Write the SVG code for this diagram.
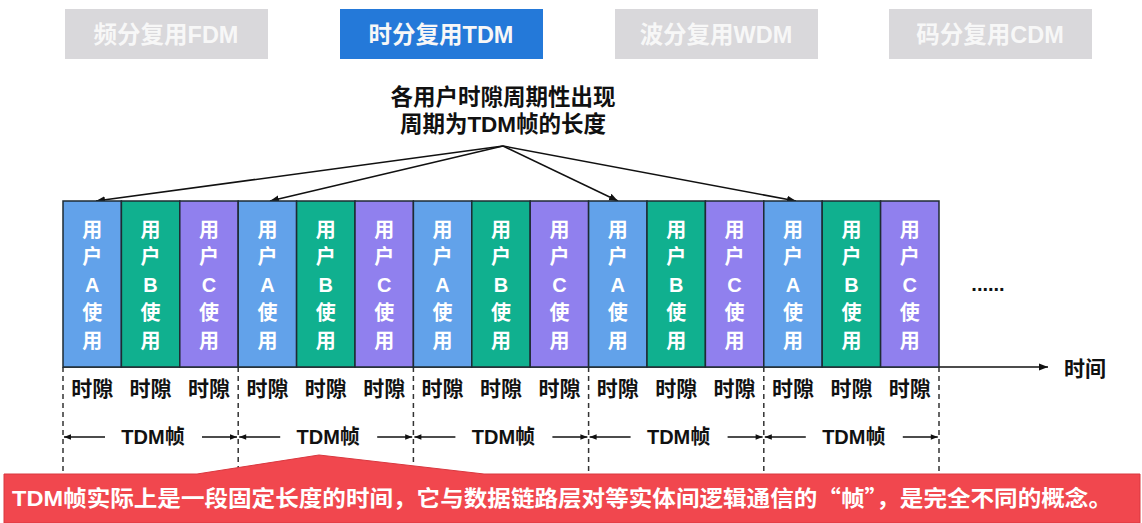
<svg xmlns="http://www.w3.org/2000/svg" width="1142" height="523" viewBox="0 0 1142 523">
<style>
text{font-family:"Liberation Sans","Noto Sans CJK SC",sans-serif;font-weight:bold}
.tab{fill:#d9d8db}
.tabon{fill:#2479d9}
.tabt{fill:#f7f7f7;font-size:23.5px;text-anchor:middle}
.ttl{fill:#111;font-size:22.5px;text-anchor:middle}
.ua{fill:#62a2ea;stroke:#1e2b33;stroke-width:1.5}
.ub{fill:#10b08f;stroke:#1e2b33;stroke-width:1.5}
.uc{fill:#9080ee;stroke:#1e2b33;stroke-width:1.5}
.ct{fill:#fff;font-size:20px;text-anchor:middle}
.sl{fill:#111;font-size:21px;text-anchor:middle}
.ln{stroke:#111;stroke-width:1.5;fill:none}
.dash{stroke:#333;stroke-width:1.5;stroke-dasharray:5 4;fill:none}
.fr{fill:#111;font-size:20px;text-anchor:middle}
</style>
<defs>
<marker id="ah" viewBox="0 0 10 10" refX="10" refY="5" markerWidth="9" markerHeight="9" markerUnits="userSpaceOnUse" orient="auto-start-reverse"><path d="M0,1 L10,5 L0,9 Z" fill="#111"/></marker>
<marker id="ah2" viewBox="0 0 10 10" refX="10" refY="5" markerWidth="8" markerHeight="7" markerUnits="userSpaceOnUse" orient="auto-start-reverse"><path d="M0,1 L10,5 L0,9 Z" fill="#111"/></marker>
</defs>
<g id="tabs">
<g id="tab-fdm"><rect class="tab" x="65" y="9" width="203" height="50"/><text class="tabt" x="166" y="43">频分复用FDM</text></g>
<g id="tab-tdm"><rect class="tabon" x="340" y="9" width="203" height="50"/><text class="tabt" x="441" y="43">时分复用TDM</text></g>
<g id="tab-wdm"><rect class="tab" x="615" y="9" width="203" height="50"/><text class="tabt" x="716" y="43">波分复用WDM</text></g>
<g id="tab-cdm"><rect class="tab" x="889" y="9" width="203" height="50"/><text class="tabt" x="990" y="43">码分复用CDM</text></g>
</g>
<g id="title">
<text class="ttl" x="503" y="105">各用户时隙周期性出现</text>
<text class="ttl" x="503" y="132">周期为TDM帧的长度</text>
</g>
<g id="connectors">
<line class="ln" x1="503" y1="146" x2="96" y2="201" marker-end="url(#ah)"/>
<line class="ln" x1="503" y1="146" x2="270" y2="201" marker-end="url(#ah)"/>
<line class="ln" x1="503" y1="146" x2="618" y2="201" marker-end="url(#ah)"/>
<line class="ln" x1="503" y1="146" x2="796" y2="201" marker-end="url(#ah)"/>
<line class="ln" x1="63" y1="367" x2="1048" y2="367" marker-end="url(#ah)"/>
<line class="dash" x1="63" y1="367" x2="63" y2="474"/>
<line class="dash" x1="238.2" y1="367" x2="238.2" y2="474"/>
<line class="dash" x1="413.4" y1="367" x2="413.4" y2="474"/>
<line class="dash" x1="588.6" y1="367" x2="588.6" y2="474"/>
<line class="dash" x1="763.8" y1="367" x2="763.8" y2="474"/>
<line class="dash" x1="939" y1="367" x2="939" y2="474"/>
<g id="frame-arrows">
<line class="ln" x1="105" y1="437" x2="64" y2="437" marker-end="url(#ah2)"/><line class="ln" x1="202" y1="437" x2="237" y2="437" marker-end="url(#ah2)"/>
<line class="ln" x1="280.2" y1="437" x2="239.2" y2="437" marker-end="url(#ah2)"/><line class="ln" x1="377.2" y1="437" x2="412.2" y2="437" marker-end="url(#ah2)"/>
<line class="ln" x1="455.4" y1="437" x2="414.4" y2="437" marker-end="url(#ah2)"/><line class="ln" x1="552.4" y1="437" x2="587.4" y2="437" marker-end="url(#ah2)"/>
<line class="ln" x1="630.6" y1="437" x2="589.6" y2="437" marker-end="url(#ah2)"/><line class="ln" x1="727.6" y1="437" x2="762.6" y2="437" marker-end="url(#ah2)"/>
<line class="ln" x1="805.8" y1="437" x2="764.8" y2="437" marker-end="url(#ah2)"/><line class="ln" x1="902.8" y1="437" x2="937.8" y2="437" marker-end="url(#ah2)"/>
</g>
</g>
<g id="slots">
<g id="s1"><rect class="ua" x="63" y="201" width="58.4" height="166"/><text class="ct"><tspan x="92.2" y="237">用</tspan><tspan x="92.2" y="264">户</tspan><tspan x="92.2" y="292">A</tspan><tspan x="92.2" y="320">使</tspan><tspan x="92.2" y="348">用</tspan></text></g>
<g id="s2"><rect class="ub" x="121.4" y="201" width="58.4" height="166"/><text class="ct"><tspan x="150.6" y="237">用</tspan><tspan x="150.6" y="264">户</tspan><tspan x="150.6" y="292">B</tspan><tspan x="150.6" y="320">使</tspan><tspan x="150.6" y="348">用</tspan></text></g>
<g id="s3"><rect class="uc" x="179.8" y="201" width="58.4" height="166"/><text class="ct"><tspan x="209" y="237">用</tspan><tspan x="209" y="264">户</tspan><tspan x="209" y="292">C</tspan><tspan x="209" y="320">使</tspan><tspan x="209" y="348">用</tspan></text></g>
<g id="s4"><rect class="ua" x="238.2" y="201" width="58.4" height="166"/><text class="ct"><tspan x="267.4" y="237">用</tspan><tspan x="267.4" y="264">户</tspan><tspan x="267.4" y="292">A</tspan><tspan x="267.4" y="320">使</tspan><tspan x="267.4" y="348">用</tspan></text></g>
<g id="s5"><rect class="ub" x="296.6" y="201" width="58.4" height="166"/><text class="ct"><tspan x="325.8" y="237">用</tspan><tspan x="325.8" y="264">户</tspan><tspan x="325.8" y="292">B</tspan><tspan x="325.8" y="320">使</tspan><tspan x="325.8" y="348">用</tspan></text></g>
<g id="s6"><rect class="uc" x="355" y="201" width="58.4" height="166"/><text class="ct"><tspan x="384.2" y="237">用</tspan><tspan x="384.2" y="264">户</tspan><tspan x="384.2" y="292">C</tspan><tspan x="384.2" y="320">使</tspan><tspan x="384.2" y="348">用</tspan></text></g>
<g id="s7"><rect class="ua" x="413.4" y="201" width="58.4" height="166"/><text class="ct"><tspan x="442.6" y="237">用</tspan><tspan x="442.6" y="264">户</tspan><tspan x="442.6" y="292">A</tspan><tspan x="442.6" y="320">使</tspan><tspan x="442.6" y="348">用</tspan></text></g>
<g id="s8"><rect class="ub" x="471.8" y="201" width="58.4" height="166"/><text class="ct"><tspan x="501" y="237">用</tspan><tspan x="501" y="264">户</tspan><tspan x="501" y="292">B</tspan><tspan x="501" y="320">使</tspan><tspan x="501" y="348">用</tspan></text></g>
<g id="s9"><rect class="uc" x="530.2" y="201" width="58.4" height="166"/><text class="ct"><tspan x="559.4" y="237">用</tspan><tspan x="559.4" y="264">户</tspan><tspan x="559.4" y="292">C</tspan><tspan x="559.4" y="320">使</tspan><tspan x="559.4" y="348">用</tspan></text></g>
<g id="s10"><rect class="ua" x="588.6" y="201" width="58.4" height="166"/><text class="ct"><tspan x="617.8" y="237">用</tspan><tspan x="617.8" y="264">户</tspan><tspan x="617.8" y="292">A</tspan><tspan x="617.8" y="320">使</tspan><tspan x="617.8" y="348">用</tspan></text></g>
<g id="s11"><rect class="ub" x="647" y="201" width="58.4" height="166"/><text class="ct"><tspan x="676.2" y="237">用</tspan><tspan x="676.2" y="264">户</tspan><tspan x="676.2" y="292">B</tspan><tspan x="676.2" y="320">使</tspan><tspan x="676.2" y="348">用</tspan></text></g>
<g id="s12"><rect class="uc" x="705.4" y="201" width="58.4" height="166"/><text class="ct"><tspan x="734.6" y="237">用</tspan><tspan x="734.6" y="264">户</tspan><tspan x="734.6" y="292">C</tspan><tspan x="734.6" y="320">使</tspan><tspan x="734.6" y="348">用</tspan></text></g>
<g id="s13"><rect class="ua" x="763.8" y="201" width="58.4" height="166"/><text class="ct"><tspan x="793" y="237">用</tspan><tspan x="793" y="264">户</tspan><tspan x="793" y="292">A</tspan><tspan x="793" y="320">使</tspan><tspan x="793" y="348">用</tspan></text></g>
<g id="s14"><rect class="ub" x="822.2" y="201" width="58.4" height="166"/><text class="ct"><tspan x="851.4" y="237">用</tspan><tspan x="851.4" y="264">户</tspan><tspan x="851.4" y="292">B</tspan><tspan x="851.4" y="320">使</tspan><tspan x="851.4" y="348">用</tspan></text></g>
<g id="s15"><rect class="uc" x="880.6" y="201" width="58.4" height="166"/><text class="ct"><tspan x="909.8" y="237">用</tspan><tspan x="909.8" y="264">户</tspan><tspan x="909.8" y="292">C</tspan><tspan x="909.8" y="320">使</tspan><tspan x="909.8" y="348">用</tspan></text></g>
</g>
<text id="ellipsis" x="988" y="291" style="fill:#111;font-size:20px;text-anchor:middle">......</text>
<text id="time" x="1085" y="376" style="fill:#111;font-size:21px;text-anchor:middle">时间</text>
<g id="slot-labels">
<text class="sl" x="92.2" y="396">时隙</text><text class="sl" x="150.6" y="396">时隙</text><text class="sl" x="209" y="396">时隙</text>
<text class="sl" x="267.4" y="396">时隙</text><text class="sl" x="325.8" y="396">时隙</text><text class="sl" x="384.2" y="396">时隙</text>
<text class="sl" x="442.6" y="396">时隙</text><text class="sl" x="501" y="396">时隙</text><text class="sl" x="559.4" y="396">时隙</text>
<text class="sl" x="617.8" y="396">时隙</text><text class="sl" x="676.2" y="396">时隙</text><text class="sl" x="734.6" y="396">时隙</text>
<text class="sl" x="793" y="396">时隙</text><text class="sl" x="851.4" y="396">时隙</text><text class="sl" x="909.8" y="396">时隙</text>
</g>
<g id="frames">
<text class="fr" x="153" y="444">TDM帧</text>
<text class="fr" x="328.2" y="444">TDM帧</text>
<text class="fr" x="503.4" y="444">TDM帧</text>
<text class="fr" x="678.6" y="444">TDM帧</text>
<text class="fr" x="853.8" y="444">TDM帧</text>
</g>
<g id="callout">
<path d="M4,474 H197 L319,455 L484,474 H1140 V523 H4 Z" fill="#f1474e" stroke="#d9383f" stroke-width="1"/>
<text x="12" y="506" style="fill:#fff;font-size:22px;font-family:'Liberation Sans','Noto Sans CJK SC',sans-serif" textLength="1100" lengthAdjust="spacingAndGlyphs">TDM帧实际上是一段固定长度的时间，它与数据链路层对等实体间逻辑通信的<tspan style="font-family:'Noto Sans CJK SC',sans-serif">“帧”</tspan>，是完全不同的概念。</text>
</g>
</svg>
